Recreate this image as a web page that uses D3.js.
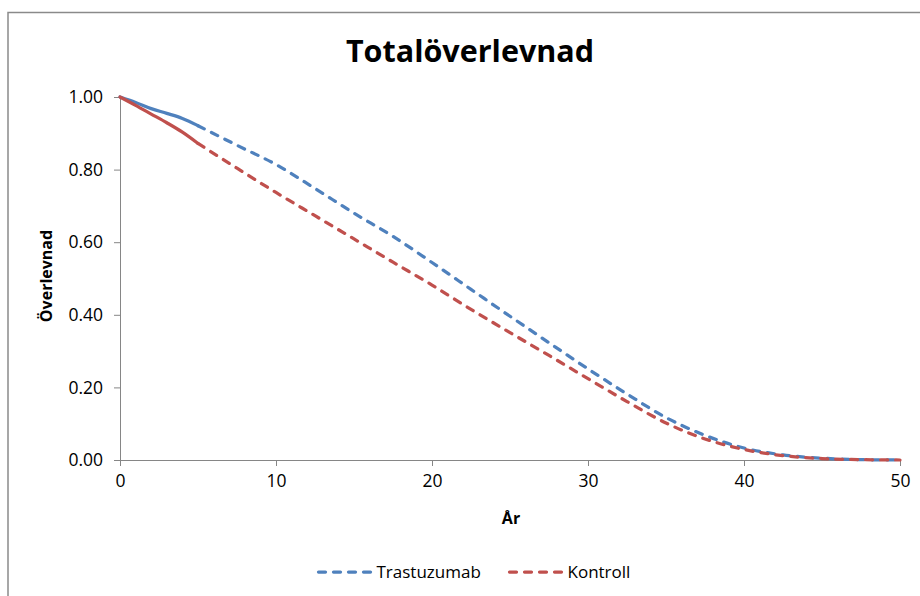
<!DOCTYPE html>
<html>
<head>
<meta charset="utf-8">
<script src="https://cdnjs.cloudflare.com/ajax/libs/d3/7.8.5/d3.min.js"></script>
<style>
  body { margin: 0; background: #fff; }
  svg text { font-family: "Open Sans", sans-serif; fill: #000; }
</style>
</head>
<body>
<svg width="920" height="596"></svg>
<script>
// observed part (solid line)
let obsYears = [0, 1, 2, 3, 4, 5];
let obsTrastuzumab = [1.000, 0.985, 0.968, 0.955, 0.941, 0.921];
let obsKontroll = [1.000, 0.977, 0.953, 0.929, 0.903, 0.872];

// extrapolated part (dashed line)
let projYears = [5, 7.5, 10, 12.5, 15, 17.5, 20, 22.5, 25, 27.5, 30, 32.5, 35, 37.5, 40, 42.5, 45, 47.5, 50];
let projTrastuzumab = [0.921, 0.867, 0.814, 0.748, 0.680, 0.616, 0.544, 0.470, 0.396, 0.323, 0.251, 0.182, 0.117, 0.068, 0.033, 0.014, 0.005, 0.001, 0.000];
let projKontroll = [0.872, 0.804, 0.737, 0.673, 0.609, 0.545, 0.482, 0.415, 0.351, 0.288, 0.224, 0.161, 0.102, 0.058, 0.029, 0.012, 0.004, 0.001, 0.000];

let xTicks = [0, 10, 20, 30, 40, 50];
let yTicks = [0, 0.2, 0.4, 0.6, 0.8, 1.0];

let seriesNames = ['Trastuzumab', 'Kontroll'];
let seriesColors = ['#4f81bd', '#c0504d'];

let svg = d3.select('svg');

// outer chart frame
svg.append('rect')
    .attr('x', 8)
    .attr('y', 12.5)
    .attr('width', 1000)
    .attr('height', 1000)
    .attr('fill', 'none')
    .attr('stroke', '#8a8a8a')
    .attr('stroke-width', 1.5);

let xScale = d3.scaleLinear().domain([0, 50]).range([120, 900]);
let yScale = d3.scaleLinear().domain([0, 1]).range([460, 97]);

let xAxis = d3.axisBottom(xScale)
              .tickValues(xTicks)
              .tickSize(6)
              .tickSizeOuter(0)
              .tickFormat(d3.format('d'));

let yAxis = d3.axisLeft(yScale)
              .tickValues(yTicks)
              .tickSize(6)
              .tickSizeOuter(0)
              .tickFormat(d3.format('.2f'));

let gx = svg.append('g')
    .attr('transform', 'translate(0,460)')
    .call(xAxis);

let gy = svg.append('g')
    .attr('transform', 'translate(120,0)')
    .call(yAxis);

[gx, gy].forEach(g => {
  g.selectAll('path, line').attr('stroke', '#868686').attr('stroke-width', 1);
  g.selectAll('text')
    .style('font-family', '"Open Sans", sans-serif')
    .style('font-size', '17.5px')
    .attr('fill', '#000');
});
gx.selectAll('text').attr('y', 15).attr('dy', '0.71em');
gy.selectAll('text').attr('x', -17);

// lines
let line = d3.line()
             .x(d => xScale(d[0]))
             .y(d => yScale(d[1]))
             .curve(d3.curveMonotoneX);

let series = [
  { obs: obsTrastuzumab, proj: projTrastuzumab },
  { obs: obsKontroll, proj: projKontroll }
];

series.forEach((s, i) => {
  svg.append('path')
      .datum(obsYears.map((y, j) => [y, s.obs[j]]))
      .attr('d', line)
      .attr('fill', 'none')
      .attr('stroke', seriesColors[i])
      .attr('stroke-width', 3.25)
      .attr('stroke-linecap', 'round');

  svg.append('path')
      .datum(projYears.map((y, j) => [y, s.proj[j]]))
      .attr('d', line)
      .attr('fill', 'none')
      .attr('stroke', seriesColors[i])
      .attr('stroke-width', 3.25)
      .attr('stroke-linecap', 'round')
      .attr('stroke-dasharray', '7,8');
});

// titles
svg.append('text')
    .attr('x', 470)
    .attr('y', 62)
    .style('text-anchor', 'middle')
    .style('font-size', '30.5px')
    .style('font-weight', 'bold')
    .text('Totalöverlevnad');

svg.append('text')
    .attr('x', 511)
    .attr('y', 524)
    .style('text-anchor', 'middle')
    .style('font-size', '16px')
    .style('font-weight', 'bold')
    .text('År');

svg.append('text')
    .attr('transform', 'translate(52,276) rotate(-90)')
    .style('text-anchor', 'middle')
    .style('font-size', '16px')
    .style('font-weight', 'bold')
    .text('Överlevnad');

// legend
let legendX = [318.5, 509.5];
let legend = svg.selectAll('.legend')
    .data(seriesNames)
    .enter()
    .append('g')
    .attr('class', 'legend')
    .attr('transform', (d, i) => `translate(${legendX[i]},572)`);

legend.append('line')
    .attr('x1', 0)
    .attr('x2', 52)
    .attr('stroke', (d, i) => seriesColors[i])
    .attr('stroke-width', 3.25)
    .attr('stroke-linecap', 'round')
    .attr('stroke-dasharray', '7,8');

legend.append('text')
    .attr('x', 58)
    .attr('dy', '0.36em')
    .style('font-size', '17px')
    .text(d => d);
</script>
</body>
</html>
